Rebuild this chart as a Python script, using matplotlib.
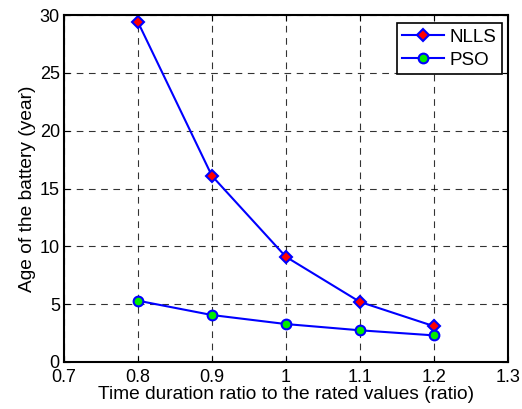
import matplotlib
matplotlib.use("Agg")
import matplotlib.pyplot as plt

ratio = [0.8, 0.9, 1.0, 1.1, 1.2]
nlls = [29.4, 16.1, 9.1, 5.2, 3.1]
pso = [5.3, 4.06, 3.28, 2.74, 2.3]
xticks = [0.7, 0.8, 0.9, 1.0, 1.1, 1.2, 1.3]
xticklabels = ["0.7", "0.8", "0.9", "1", "1.1", "1.2", "1.3"]
yticks = [0, 5, 10, 15, 20, 25, 30]

plt.rcParams['font.family'] = ['Liberation Sans', 'DejaVu Sans']
fig = plt.figure(figsize=(5.22, 4.09), dpi=100)
ax = fig.add_axes([0.1226, 0.115, 0.850, 0.848])

ax.plot(ratio, nlls, color='blue', lw=1.5, marker='D', ms=6, mfc='red', mec='blue', mew=1.5, label='NLLS')
ax.plot(ratio, pso, color='blue', lw=1.5, marker='o', ms=7, mfc='#00ee00', mec='blue', mew=1.5, label='PSO')

ax.set_xlim(0.7, 1.3)
ax.set_ylim(0, 30)
ax.set_xticks(xticks)
ax.set_xticklabels(xticklabels)
ax.set_yticks(yticks)
ax.tick_params(direction='in', labelsize=13, length=4, top=True, right=True)
ax.tick_params(axis='x', pad=5)
ax.tick_params(axis='y', pad=3)
ax.grid(True, color='black', linestyle=(0, (6, 5)), lw=0.8, alpha=0.8)
for s in ax.spines.values():
    s.set_linewidth(1.5)
ax.set_xlabel('Time duration ratio to the rated values (ratio)', fontsize=13.8, labelpad=0)
ax.set_ylabel('Age of the battery (year)', fontsize=13.8, labelpad=3)
leg = ax.legend(loc='upper right', fontsize=13.5, fancybox=False, edgecolor='black',
                framealpha=1, handlelength=2.2, handletextpad=0.3, borderpad=0.3,
                labelspacing=0.3, borderaxespad=0, bbox_to_anchor=(0.9865, 0.977))
leg.get_frame().set_linewidth(1.2)
fig.savefig('out.png', dpi=100)
